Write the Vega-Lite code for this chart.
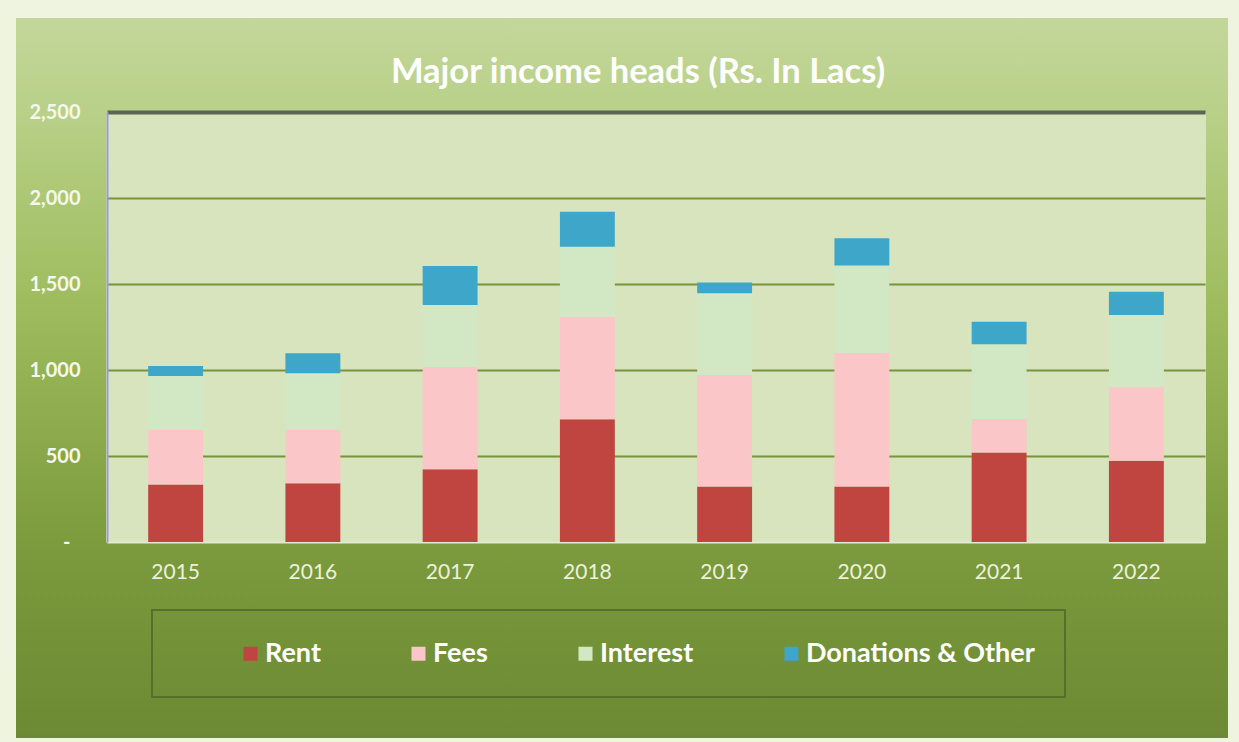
{
  "$schema": "https://vega.github.io/schema/vega-lite/v6.json",
  "width": 1239,
  "height": 742,
  "autosize": {"type": "fit", "contains": "padding"},
  "padding": {"left": 16, "top": 18, "right": 11, "bottom": 4},
  "background": "#eef4e0",
  "view": {
    "stroke": null,
    "fill": {
      "gradient": "linear", "x1": 0, "y1": 0, "x2": 0, "y2": 1,
      "stops": [
        {"offset": 0, "color": "#c4d79b"},
        {"offset": 0.13, "color": "#b8d088"},
        {"offset": 0.39, "color": "#9fbd5f"},
        {"offset": 0.73, "color": "#7c9b3d"},
        {"offset": 1, "color": "#6b8a33"}
      ]
    }
  },
  "config": {"legend": {"strokeWidth": 2}},
  "title": {
    "text": "Major income heads (Rs. In Lacs)",
    "font": "Lato", "fontSize": 34.5, "fontWeight": "bold", "color": "#ffffff",
    "anchor": "middle", "frame": "group", "orient": "top", "offset": -99, "dx": 16, "baseline": "alphabetic"
  },
  "data": {
    "values": [
      {"year": "2015", "cat": "Rent", "ord": 1, "value": 335},
      {"year": "2015", "cat": "Fees", "ord": 2, "value": 316},
      {"year": "2015", "cat": "Interest", "ord": 3, "value": 314},
      {"year": "2015", "cat": "Donations & Other", "ord": 4, "value": 58},
      {"year": "2016", "cat": "Rent", "ord": 1, "value": 341},
      {"year": "2016", "cat": "Fees", "ord": 2, "value": 310},
      {"year": "2016", "cat": "Interest", "ord": 3, "value": 330},
      {"year": "2016", "cat": "Donations & Other", "ord": 4, "value": 116},
      {"year": "2017", "cat": "Rent", "ord": 1, "value": 423},
      {"year": "2017", "cat": "Fees", "ord": 2, "value": 596},
      {"year": "2017", "cat": "Interest", "ord": 3, "value": 359},
      {"year": "2017", "cat": "Donations & Other", "ord": 4, "value": 227},
      {"year": "2018", "cat": "Rent", "ord": 1, "value": 713},
      {"year": "2018", "cat": "Fees", "ord": 2, "value": 597},
      {"year": "2018", "cat": "Interest", "ord": 3, "value": 407},
      {"year": "2018", "cat": "Donations & Other", "ord": 4, "value": 203},
      {"year": "2019", "cat": "Rent", "ord": 1, "value": 322},
      {"year": "2019", "cat": "Fees", "ord": 2, "value": 649},
      {"year": "2019", "cat": "Interest", "ord": 3, "value": 475},
      {"year": "2019", "cat": "Donations & Other", "ord": 4, "value": 62},
      {"year": "2020", "cat": "Rent", "ord": 1, "value": 322},
      {"year": "2020", "cat": "Fees", "ord": 2, "value": 779},
      {"year": "2020", "cat": "Interest", "ord": 3, "value": 506},
      {"year": "2020", "cat": "Donations & Other", "ord": 4, "value": 159},
      {"year": "2021", "cat": "Rent", "ord": 1, "value": 521},
      {"year": "2021", "cat": "Fees", "ord": 2, "value": 194},
      {"year": "2021", "cat": "Interest", "ord": 3, "value": 434},
      {"year": "2021", "cat": "Donations & Other", "ord": 4, "value": 132},
      {"year": "2022", "cat": "Rent", "ord": 1, "value": 473},
      {"year": "2022", "cat": "Fees", "ord": 2, "value": 426},
      {"year": "2022", "cat": "Interest", "ord": 3, "value": 421},
      {"year": "2022", "cat": "Donations & Other", "ord": 4, "value": 135}
    ]
  },
  "mark": {"type": "bar", "width": {"band": 0.4}},
  "encoding": {
    "x": {
      "field": "year", "type": "ordinal",
      "scale": {"range": [91, 1189], "paddingInner": 0, "paddingOuter": 0},
      "axis": {
        "orient": "top", "offset": -524, "grid": true, "gridColor": "#d7e4bd", "gridWidth": 139, "gridOpacity": 1,
        "bandPosition": 0.5, "domain": false, "ticks": false, "labelPadding": -19, "labelBaseline": "top", "labelAngle": 0,
        "labelFont": "Lato", "labelFontSize": 21, "labelColor": "#ebf1de", "title": null, "zindex": 0
      }
    },
    "y": {
      "field": "value", "type": "quantitative",
      "scale": {"domain": [0, 2500], "range": [524, 94], "nice": false},
      "axis": {
        "orient": "left", "offset": -91, "values": [0, 500, 1000, 1500, 2000, 2500],
        "labelExpr": "datum.value == 0 ? '-' : format(datum.value, ',')",
        "grid": true,
        "gridColor": {"condition": [{"test": "datum.value == 2500", "value": "#5d6452"}, {"test": "datum.value == 0", "value": "#e2ebd0"}], "value": "#77933c"},
        "gridWidth": {"condition": {"test": "datum.value == 2500", "value": 4}, "value": 2},
        "domain": true, "domainColor": "#9c9bd0", "domainWidth": 2, "ticks": false,
        "labelPadding": {"condition": {"test": "datum.value == 0", "value": 37}, "value": 27},
        "labelFont": "Lato", "labelFontSize": 20, "labelFontWeight": "bold", "labelColor": "#f4f8ec",
        "title": null, "zindex": 0
      }
    },
    "color": {
      "field": "cat", "type": "nominal",
      "scale": {"domain": ["Rent", "Fees", "Interest", "Donations & Other"], "range": ["#c0443f", "#fbc6c8", "#d2e8c4", "#3ea7c9"]},
      "legend": {
        "orient": "none", "legendX": 136, "legendY": 592, "direction": "horizontal", "columns": 4,
        "title": " ", "titleOrient": "left", "titleFontSize": 8, "titlePadding": 55,
        "padding": 30, "columnPadding": 84, "symbolType": "square", "symbolSize": 196, "symbolStrokeWidth": 0,
        "labelFont": "Lato", "labelFontSize": 27, "labelFontWeight": "bold", "labelColor": "#ffffff",
        "labelOffset": 1, "labelLimit": 0, "strokeColor": "#56702b",
        "labelExpr": "datum.label == 'Donations & Other' ? datum.label + '\u00a0\u00a0\u00a0\u00a0\u00a0\u00a0\u00a0\u00a0' : datum.label"
      }
    },
    "order": {"field": "ord", "type": "quantitative"}
  }
}
